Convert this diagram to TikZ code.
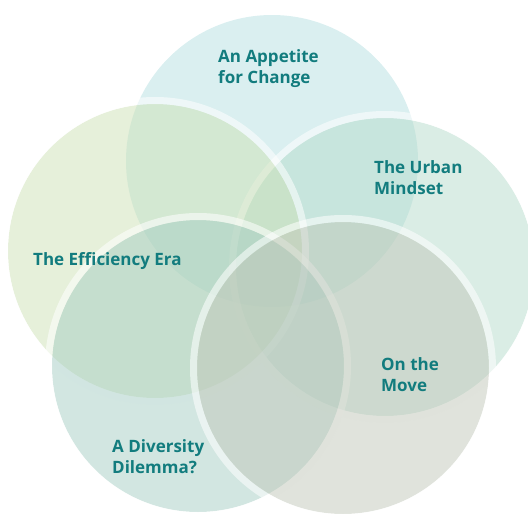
\documentclass[tikz,border=0pt]{standalone}
\usepackage{fontspec}
\newfontfamily\labfont{Open Sans}
\definecolor{ctop}{RGB}{181,223,225}
\definecolor{ceff}{RGB}{205,225,181}
\definecolor{curb}{RGB}{181,219,203}
\definecolor{cdiv}{RGB}{165,205,195}
\definecolor{cmov}{RGB}{193,199,185}
\definecolor{labcol}{RGB}{18,124,126}
\begin{document}
\begin{tikzpicture}[x=1pt,y=-1pt,
  blob/.style={fill=#1, fill opacity=0.5, draw=none},
  ring/.style={draw=white, draw opacity=0.55, line width=7pt, fill=none},
  lab/.style={font=\labfont\bfseries\fontsize{17}{21}\selectfont, text=labcol, align=left, anchor=base west, inner sep=0pt}]
\useasboundingbox (0,0) rectangle (528,514);
\clip (0,0) rectangle (528,514);
% circles
\fill[blob=ctop] (272,161) circle[radius=146];
\fill[blob=curb] (385,267) circle[radius=149];
\draw[ring] (385,267) circle[radius=152.5];
\fill[blob=ceff] (155,251) circle[radius=147];
\draw[ring] (155,251) circle[radius=150.5];
\fill[blob=cdiv] (198,366) circle[radius=146];
\draw[ring] (198,366) circle[radius=149.5];
\fill[blob=cmov] (343,368) circle[radius=146];
\draw[ring] (343,368) circle[radius=149.5];
% labels (base anchor = baseline of last line)
\node[lab] (ltop) at (218,83) {An Appetite\\for Change};
\node[lab] (lurb) at (374,194) {The Urban\\Mindset};
\node[lab] (leff) at (33,265) {The Efficiency Era};
\node[lab] (lmov) at (381,391) {On the\\Move};
\node[lab] (ldiv) at (112,473) {A Diversity\\Dilemma?};
\end{tikzpicture}
\end{document}
